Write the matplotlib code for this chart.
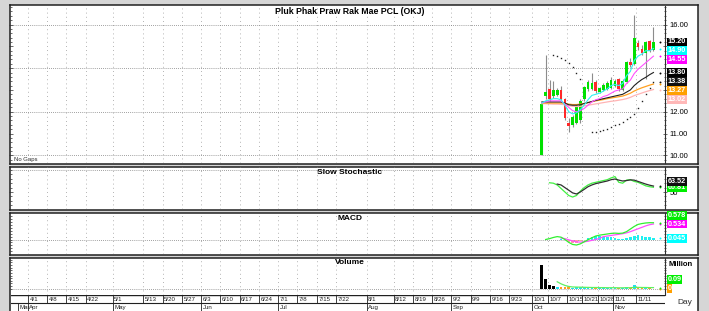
import matplotlib.pyplot as plt
import numpy as np
import pandas as pd

plt.rcParams['font.family'] = ['Liberation Sans', 'DejaVu Sans']

W, H = 709, 311
nan = np.nan

# trading calendar: weekdays minus two SET holidays
days = pd.bdate_range('2024-03-25', '2024-11-22')
days = days.drop(pd.to_datetime(['2024-10-14', '2024-10-23']))
first_day = '2024-10-03'

title = 'Pluk Phak Praw Rak Mae PCL (OKJ)'

open_ = [10.0, 12.7, 13.05, 12.7, 12.75, 13.0, 12.6, 11.5, 11.4, 11.5,
         11.6, 12.6, 13.05, 13.05, 13.35, 12.9, 13.0, 13.05, 13.1, 13.2,
         13.5, 13.0, 13.35, 14.3, 14.2, 15.15, 14.9, 14.7, 15.25, 14.85]
high = [12.4, 14.6, 13.45, 13.4, 13.1, 13.2, 12.65, 11.7, 11.85, 12.3,
        12.6, 13.2, 13.45, 13.8, 13.45, 13.15, 13.3, 13.4, 13.6, 13.5,
        13.55, 13.5, 14.35, 14.45, 16.45, 15.3, 15.05, 15.25, 15.3, 15.9]
low = [10.0, 12.6, 12.5, 12.65, 12.7, 12.55, 11.6, 11.05, 11.3, 11.45,
       11.5, 12.5, 12.95, 13.0, 12.85, 12.85, 12.95, 13.0, 13.05, 13.15,
       12.95, 12.95, 13.3, 14.05, 14.15, 14.85, 14.6, 13.5, 14.75, 14.8]
close = [12.35, 12.9, 12.6, 13.0, 13.0, 12.6, 11.7, 11.35, 11.75, 12.2,
         12.5, 13.15, 13.35, 13.3, 12.95, 13.1, 13.25, 13.3, 13.45, 13.4,
         13.05, 13.4, 14.3, 14.15, 15.4, 14.95, 14.7, 15.2, 14.8, 15.2]

ma_cyan = [12.4, 12.5, 12.55, 12.6, 12.6, 12.55, 12.3, 12.0, 11.9, 11.95,
           12.1, 12.3, 12.55, 12.75, 12.8, 12.85, 12.95, 13.05, 13.2, 13.25,
           13.2, 13.3, 13.65, 13.85, 14.35, 14.55, 14.65, 14.8, 14.8, 14.9]
ma_magenta = [12.4, 12.45, 12.5, 12.5, 12.5, 12.5, 12.35, 12.2, 12.05, 12.0,
              12.05, 12.15, 12.3, 12.45, 12.55, 12.6, 12.7, 12.75, 12.85, 12.95,
              13.0, 13.05, 13.3, 13.45, 13.75, 13.95, 14.1, 14.25, 14.4, 14.55]
ma_black = [12.45, 12.45, 12.45, 12.45, 12.45, 12.45, 12.4, 12.32, 12.3, 12.3,
            12.32, 12.38, 12.42, 12.47, 12.52, 12.56, 12.6, 12.64, 12.68, 12.72,
            12.76, 12.8, 12.9, 13.0, 13.2, 13.35, 13.48, 13.58, 13.7, 13.8]
ma_orange = [12.4, 12.4, 12.4, 12.4, 12.4, 12.4, 12.38, 12.35, 12.33, 12.33,
             12.35, 12.38, 12.42, 12.46, 12.5, 12.53, 12.56, 12.6, 12.63, 12.66,
             12.69, 12.72, 12.78, 12.85, 12.95, 13.03, 13.1, 13.16, 13.22, 13.27]
ma_pink = [12.37, 12.37, 12.36, 12.35, 12.35, 12.34, 12.32, 12.28, 12.25, 12.24,
           12.25, 12.27, 12.3, 12.33, 12.36, 12.39, 12.42, 12.45, 12.48, 12.5,
           12.53, 12.56, 12.6, 12.66, 12.74, 12.8, 12.86, 12.92, 12.97, 13.02]
sar = [nan, nan, nan, 14.6, 14.55, 14.47, 14.38, 14.25, 14.05, 13.8,
       13.5, nan, nan, 11.05, 11.08, 11.12, 11.17, 11.23, 11.3, 11.38,
       11.46, 11.55, 11.65, 11.75, 11.88, 12.15, 12.5, 12.8, 13.1, 13.38]

stoch_k = [nan, nan, 71, 70, 66, 58, 50, 42, 38.6, 42,
           52, 60, 66, 70, 72, 74, 76, 78, 82, 85,
           72, 70, 77, 78, 74, 72, 68, 64, 62, 60.81]
stoch_d = [nan, nan, nan, nan, 68, 66, 60, 54, 48, 45.5,
           50, 56, 62, 66, 69, 71, 73, 75, 78, 79.5,
           77, 75, 76, 77.5, 77, 74, 71, 68, 65.5, 63.52]

macd = [nan, 0.0, 0.03, 0.07, 0.1, 0.08, 0.0, -0.1, -0.17, -0.19,
        -0.15, -0.08, -0.01, 0.06, 0.12, 0.15, 0.17, 0.19, 0.21, 0.22,
        0.21, 0.22, 0.27, 0.36, 0.45, 0.52, 0.55, 0.57, 0.58, 0.578]
macd_signal = [nan, nan, nan, nan, nan, 0.05, 0.03, -0.01, -0.05, -0.08,
               -0.09, -0.08, -0.06, -0.03, 0.0, 0.04, 0.1, 0.12, 0.14, 0.16,
               0.18, 0.2, 0.23, 0.27, 0.32, 0.37, 0.42, 0.47, 0.51, 0.534]
macd_hist = [nan, nan, nan, nan, nan, 0.03, -0.03, -0.09, -0.12, -0.11,
             -0.06, 0.0, 0.05, 0.09, 0.12, 0.11, 0.07, 0.07, 0.07, 0.06,
             0.03, 0.02, 0.04, 0.09, 0.13, 0.17, 0.13, 0.1, 0.07, 0.045]

volume = [2.3, 0.9, 0.3, 0.25, 0.12, 0.1, 0.15, 0.12, 0.08, 0.1,
          0.12, 0.1, 0.08, 0.1, 0.06, 0.05, 0.06, 0.05, 0.06, 0.05,
          0.05, 0.06, 0.1, 0.08, 0.35, 0.12, 0.06, 0.1, 0.05, 0.003]
volume_ma = [nan, nan, nan, nan, 0.65, 0.45, 0.3, 0.2, 0.15, 0.14,
             0.13, 0.12, 0.11, 0.1, 0.1, 0.09, 0.09, 0.08, 0.08, 0.08,
             0.07, 0.07, 0.08, 0.08, 0.11, 0.11, 0.1, 0.1, 0.09, 0.09]

week_labels = ['4/1', '4/8', '4/15', '4/22', '5/1', '5/13', '5/20', '5/27',
               '6/3', '6/10', '6/17', '6/24', '7/1', '7/8', '7/15', '7/22',
               '8/1', '8/12', '8/19', '8/26', '9/2', '9/9', '9/16', '9/23',
               '10/1', '10/7', '10/15', '10/21', '10/28', '11/1', '11/11']
month_labels = ['Mar', 'Apr', 'May', 'Jun', 'Jul', 'Aug', 'Sep', 'Oct', 'Nov']
month_starts = ['2024-03-01', '2024-04-01', '2024-05-01', '2024-06-03', '2024-07-01',
                '2024-08-01', '2024-09-02', '2024-10-01', '2024-11-01']
price_ticks = [10, 11, 12, 13, 14, 15, 16]

GREEN = '#00e000'
RED = '#ff2828'
CYAN = '#30f0f0'
MAGENTA = '#ff50ff'
ORANGE = '#ffa020'
PINK = '#ffb4b4'

x0 = days.get_loc(pd.Timestamp(first_day))
x = np.arange(x0, x0 + len(close))
week_pos = [days.get_loc(pd.Timestamp('2024-%s-%s' % tuple(w.split('/')))) for w in week_labels]
month_pos = [days.searchsorted(pd.Timestamp(m)) for m in month_starts]
XLIM = (0.1, 170.0)

o = np.array(open_)
c = np.array(close)
up = c >= o


def px(a0, b0, a1, b1):
    return [a0 / W, 1 - b1 / H, (a1 - a0) / W, (b1 - b0) / H]


fig = plt.figure(figsize=(W / 100, H / 100), dpi=100, facecolor='#d6d6d6')

# white panel boxes
for b0, b1 in [(5, 163.5), (166.5, 209.5), (212.5, 254.5), (257.5, 312)]:
    bg = fig.add_axes(px(9.5, b0, 698, b1), zorder=0)
    bg.set_xticks([])
    bg.set_yticks([])
    bg.set_facecolor('white')
    for s in bg.spines.values():
        s.set_color('#202020')
        s.set_linewidth(1.1)

ax1 = fig.add_axes(px(11, 6, 665, 163), zorder=1)
ax2 = fig.add_axes(px(11, 167, 665, 209), zorder=1)
ax3 = fig.add_axes(px(11, 213, 665, 254), zorder=1)
ax4 = fig.add_axes(px(11, 258, 665, 295), zorder=1)

for ax in (ax1, ax2, ax3, ax4):
    ax.set_facecolor('none')
    ax.set_xlim(*XLIM)
    ax.set_xticks([])
    for name, s in ax.spines.items():
        s.set_visible(name == 'right')
    ax.spines['right'].set_color('#303030')
    ax.spines['right'].set_linewidth(0.8)
    ax.yaxis.tick_right()
    ax.tick_params(axis='y', which='both', left=True, right=True, direction='inout',
                   length=3, width=0.5, color='#303030', labelsize=5.5, pad=2)
    ax.tick_params(axis='y', which='minor', length=2)
    for p in week_pos:
        ax.axvline(p - 0.5, color='#9a9a9a', lw=0.6, ls=(0, (1, 4)), zorder=0)

# ---- price panel
ax1.set_ylim(9.65, 16.85)
ax1.set_yticks(np.arange(9.8, 16.85, 0.2), minor=True)
for v in np.arange(10, 17, 2):
    ax1.axhline(v, color='#808080', lw=0.6, ls=(0, (1, 1.5)), zorder=0)
ax1.vlines(x, low, high, color='#8c8c8c', lw=0.8, zorder=2)
ax1.bar(x, np.abs(c - o), bottom=np.minimum(o, c), width=0.7,
        color=np.where(up, GREEN, RED), zorder=3)
ax1.plot(x, ma_pink, color=PINK, lw=0.9, zorder=4)
ax1.plot(x, ma_orange, color=ORANGE, lw=0.9, zorder=4)
ax1.plot(x, ma_black, color='#202020', lw=0.8, zorder=4)
ax1.plot(x, ma_magenta, color=MAGENTA, lw=0.8, zorder=4)
ax1.plot(x, ma_cyan, color=CYAN, lw=0.8, zorder=4)
ax1.plot(x, sar, ls='none', marker='s', ms=1.0, mew=0, color='#202020', zorder=5)

# ---- slow stochastic
ax2.set_ylim(11.4, 106.8)
ax2.set_yticks([50])
ax2.set_yticks(np.arange(20, 101, 10), minor=True)
ax2.axhline(100, color='#808080', lw=0.6, ls=(0, (1, 1.5)), zorder=0)
ax2.plot(x, stoch_k, color='#40f040', lw=0.9, zorder=3)
ax2.plot(x, stoch_d, color='#303030', lw=0.9, zorder=4)

# ---- MACD
ax3.set_ylim(-0.5, 0.914)
ax3.set_yticks([])
ax3.set_yticks(np.arange(-0.4, 0.9, 0.1), minor=True)
ax3.axhline(0, color='#808080', lw=0.6, ls=(0, (1, 1.5)), zorder=0)
h = np.array(macd_hist)
ax3.bar(x, h, width=0.7, color=np.where(h >= 0, '#20f0f0', '#ffa0a0'), zorder=2)
ax3.plot(x, macd_signal, color=MAGENTA, lw=0.9, zorder=3)
ax3.plot(x, macd, color='#30f030', lw=0.9, zorder=4)

# ---- volume
ax4.set_ylim(-0.62, 2.93)
ax4.set_yticks([])
ax4.set_yticks(np.arange(0, 2.9, 0.25), minor=True)
ax4.axhline(0, color='#808080', lw=0.6, ls=(0, (1, 1.5)), zorder=0)
vcol = ['#000000'] * 4 + [('#20e0f0' if u else ORANGE) for u in up[4:]]
ax4.bar(x, volume, width=0.7, color=vcol, zorder=2)
ax4.plot(x, volume_ma, color='#60f060', lw=0.9, zorder=3)


# ---- value tags on the right scale
def tags(ax, items, gap, upward=False):
    ys = [ax.transData.transform((0, v))[1] for v, _, _ in items]
    order = sorted(range(len(items)), key=lambda i: ys[i], reverse=not upward)
    inv = ax.transAxes.inverted()
    prev = None
    placed = []
    for i in order:
        y = ys[i]
        if prev is not None:
            y = max(y, prev + gap) if upward else min(y, prev - gap)
        prev = y
        placed.append(y)
        v, fc, txt = items[i]
        ax.plot(x[-1] + 1.7, v, marker='o', ms=1.4, mew=0, color=fc, zorder=6, clip_on=False)
        ax.text(1.004, inv.transform((0, y))[1], txt, transform=ax.transAxes,
                ha='left', va='center', fontsize=5.2, fontweight='bold', color='white',
                bbox=dict(boxstyle='square,pad=0.12', fc=fc, ec='none'),
                zorder=10, clip_on=False)
    return placed


tag_y = tags(ax1, [(close[-1], '#000000', '%.2f' % close[-1]),
                   (ma_cyan[-1], '#00ffff', '%.2f' % ma_cyan[-1]),
                   (ma_magenta[-1], '#ff00ff', '%.2f' % ma_magenta[-1]),
                   (ma_black[-1], '#000000', '%.2f' % ma_black[-1]),
                   (sar[-1], '#101010', '%.2f' % sar[-1]),
                   (ma_orange[-1], '#ffa000', '%.2f' % ma_orange[-1]),
                   (ma_pink[-1], '#ffb8b8', '%.2f' % ma_pink[-1])], 8.8)
# price scale labels that sit under a tag are covered in the original
ax1.set_yticks(price_ticks)
ax1.set_yticklabels(['' if min(abs(ax1.transData.transform((0, v))[1] - t) for t in tag_y) < 8
                     else '%.2f' % v for v in price_ticks])

tags(ax2, [(stoch_d[-1], '#101010', '%.2f' % stoch_d[-1]),
           (stoch_k[-1], '#00ee00', '%.2f' % stoch_k[-1])], 6.0, upward=True)
tags(ax3, [(macd[-1], '#00ee00', '%.3f' % macd[-1]),
           (macd_signal[-1], '#ff00ff', '%.3f' % macd_signal[-1]),
           (macd_hist[-1], '#00ffff', '%.3f' % macd_hist[-1])], 8.8, upward=True)
tags(ax4, [(volume_ma[-1], '#00ee00', '%.2f' % volume_ma[-1]),
           (volume[-1], '#ffa000', '%g' % round(volume[-1], 2))], 8.8, upward=True)

# ---- date axis
axd = fig.add_axes(px(11, 295, 665, 311), zorder=1)
axd.set_xlim(*XLIM)
axd.set_ylim(0, 1)
axd.axis('off')
axd.axhline(1, color='#202020', lw=1.0)
axd.axhline(0.5, color='#202020', lw=0.8)
for p, lab in zip(week_pos, week_labels):
    axd.plot([p - 0.5, p - 0.5], [0.5, 1], color='#202020', lw=0.6)
    axd.text(p - 0.1, 0.74, lab, fontsize=4.4, ha='left', va='center', color='#202020')
for p, lab in zip(month_pos, month_labels):
    p = max(p - 0.5, XLIM[0] + 1.8)
    axd.plot([p, p], [0, 0.5], color='#202020', lw=0.6)
    axd.text(p + 0.4, 0.22, lab, fontsize=4.4, ha='left', va='center', color='#202020')

# ---- titles
fig.text(350 / W, 1 - 11 / H, title, fontsize=6.3, fontweight='bold', ha='center', va='center')
fig.text(14 / W, 1 - 159 / H, 'No Gaps', fontsize=4.3, ha='left', va='center', color='#303030')
fig.text(350 / W, 1 - 173 / H, 'Slow Stochastic', fontsize=6.0, fontweight='bold', ha='center', va='center')
fig.text(350 / W, 1 - 218 / H, 'MACD', fontsize=6.0, fontweight='bold', ha='center', va='center')
fig.text(350 / W, 1 - 262 / H, 'Volume', fontsize=6.0, fontweight='bold', ha='center', va='center')
fig.text(681 / W, 1 - 264 / H, 'Million', fontsize=5.5, fontweight='bold', ha='center', va='center')
fig.text(685 / W, 1 - 303 / H, 'Day', fontsize=6.0, ha='center', va='center', color='#303030')

fig.savefig('out.png', dpi=100, facecolor=fig.get_facecolor())
